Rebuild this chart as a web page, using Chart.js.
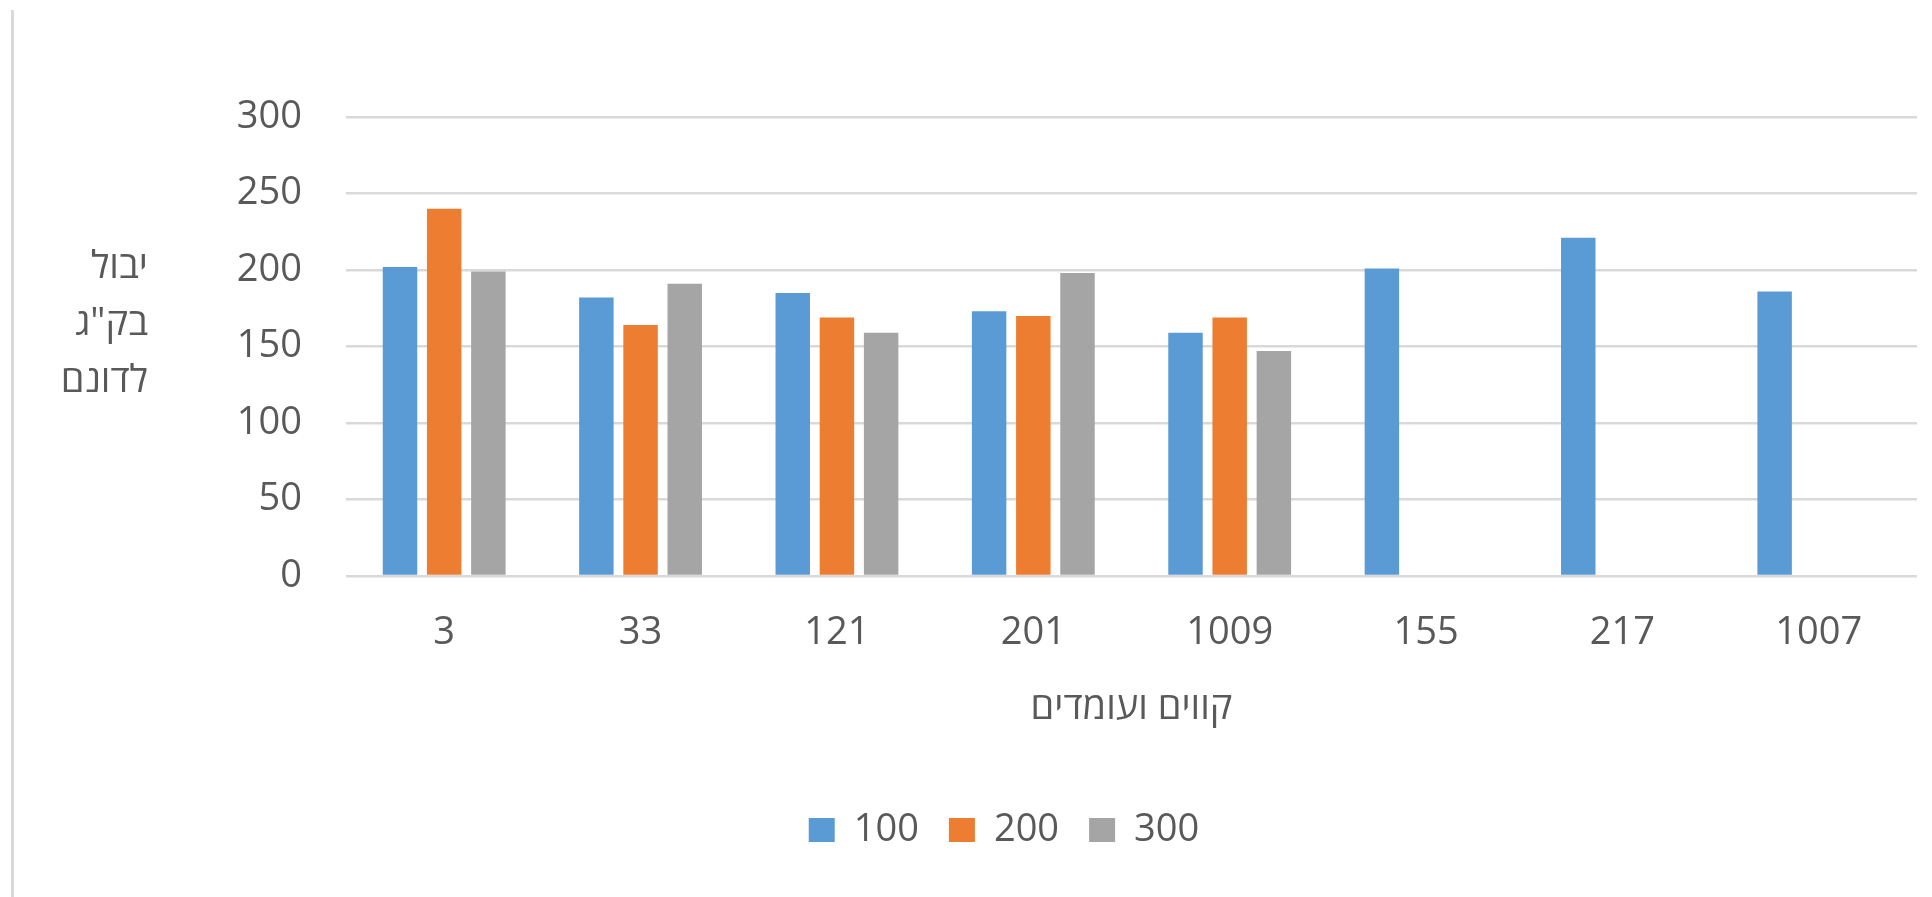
<!DOCTYPE html>
<html>
<head>
<meta charset="utf-8">
<script src="https://cdn.jsdelivr.net/npm/chart.js@4.4.1/dist/chart.umd.min.js"></script>
<style>
  html, body { margin: 0; padding: 0; background: #fff; }
  #wrap { position: relative; width: 1932px; height: 897px; }
  #edge { position: absolute; left: 11px; top: 10px; width: 3px; height: 887px; background: #d9d9d9; }
</style>
</head>
<body>
<div id="wrap">
  <div id="edge"></div>
  <canvas id="myChart" width="1932" height="897"></canvas>
</div>
<script>
// categories (קווים ועומדים)
var lines = ['3', '33', '121', '201', '1009', '155', '217', '1007'];
// series
var seriesNames = ['100', '200', '300'];
var s100 = [202, 182, 185, 173, 159, 201, 221, 186];
var s200 = [240, 164, 169, 170, 169, null, null, null];
var s300 = [199, 191, 159, 198, 147, null, null, null];
// axis
var yTicks = [0, 50, 100, 150, 200, 250, 300];
var yTitle = ['יבול', 'בק"ג', 'לדונם'];
var xTitle = 'קווים ועומדים';

var chartColors = {
    blue: '#5B9BD5',
    orange: '#ED7D31',
    grey: '#A5A5A5',
    text: '#595959',
    grid: '#d9d9d9'
};
var fontFamily = "'Open Sans', 'DejaVu Sans', sans-serif";

// y title is horizontal, three lines, so draw it by hand
var yTitlePlugin = {
    id: 'yTitle',
    afterDraw: function(chart) {
        var ctx = chart.ctx;
        ctx.save();
        ctx.fillStyle = chartColors.text;
        ctx.font = '38px ' + fontFamily;
        ctx.direction = 'rtl';
        ctx.textAlign = 'right';
        ctx.textBaseline = 'alphabetic';
        yTitle.forEach(function(t, i) {
            ctx.fillText(t, 148, 278 + i * 57);
        });
        ctx.restore();
    }
};

Chart.defaults.font.family = fontFamily;
Chart.defaults.color = chartColors.text;

new Chart(document.getElementById('myChart').getContext('2d'), {
    type: 'bar',
    data: {
        labels: lines,
        datasets: [{
            label: seriesNames[0],
            data: s100,
            backgroundColor: chartColors.blue
        }, {
            label: seriesNames[1],
            data: s200,
            backgroundColor: chartColors.orange
        }, {
            label: seriesNames[2],
            data: s300,
            backgroundColor: chartColors.grey
        }]
    },
    options: {
        responsive: false,
        animation: false,
        events: [],
        layout: {
            padding: { left: 91, right: 15, top: 117, bottom: 38 }
        },
        datasets: {
            bar: { categoryPercentage: 0.675, barPercentage: 0.78 }
        },
        scales: {
            x: {
                grid: { display: false },
                border: { display: false },
                ticks: { font: { size: 38, lineHeight: 1 }, padding: 30, maxRotation: 0 },
                title: {
                    display: true,
                    text: xTitle,
                    font: { size: 38, lineHeight: 1 },
                    padding: { top: 7, bottom: 54 }
                }
            },
            y: {
                min: 0,
                max: 300,
                afterFit: function(scale) { scale.width = 255; },
                afterBuildTicks: function(scale) {
                    scale.ticks = yTicks.map(function(v) { return { value: v }; });
                },
                grid: { color: chartColors.grid, lineWidth: 2.5, drawTicks: false },
                border: { display: false },
                ticks: { font: { size: 38 }, padding: 44 }
            }
        },
        plugins: {
            legend: {
                position: 'bottom',
                labels: {
                    boxWidth: 26,
                    boxHeight: 24,
                    padding: 30,
                    font: { size: 38 }
                }
            },
            tooltip: { enabled: false }
        }
    },
    plugins: [yTitlePlugin]
});
</script>
</body>
</html>
